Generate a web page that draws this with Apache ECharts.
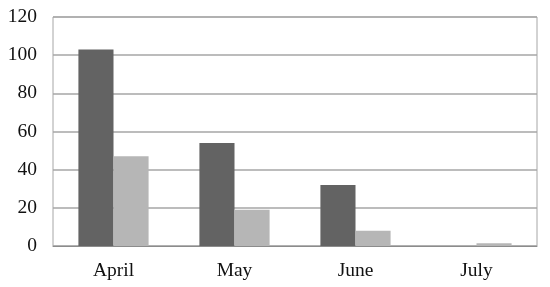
<!DOCTYPE html>
<html>
<head>
<meta charset="utf-8">
<script src="https://cdn.jsdelivr.net/npm/echarts@6/dist/echarts.min.js"></script>
<style>
  html, body { margin: 0; padding: 0; background: #fff; }
  #chart { width: 550px; height: 287px; }
</style>
</head>
<body>
<div id="chart"></div>
<script>
// values
const months = ["April", "May", "June", "July"];
const seriesDark = [103, 54, 32, 0];
const seriesLight = [47, 19, 8, 1.5];
const yTicks = { min: 0, max: 120, step: 20 };

const chart = echarts.init(document.getElementById("chart"), null, { renderer: "canvas" });

const font = "'Liberation Serif', 'DejaVu Serif', serif";

chart.setOption({
  animation: false,
  backgroundColor: "#fff",
  grid: {
    left: 53,
    right: 13,
    top: 17,
    bottom: 41,
    show: true,
    borderColor: "#a6a6a6",
    borderWidth: 1
  },
  xAxis: {
    type: "category",
    data: months,
    axisLine: { show: true, lineStyle: { color: "#8c8c8c", width: 1 } },
    axisTick: { show: false },
    axisLabel: { color: "#111", fontFamily: font, fontSize: 19.5, margin: 15 }
  },
  yAxis: {
    type: "value",
    min: yTicks.min,
    max: yTicks.max,
    interval: yTicks.step,
    axisLine: { show: false },
    axisTick: { show: false },
    axisLabel: { color: "#111", fontFamily: font, fontSize: 19.5, margin: 16 },
    splitLine: { lineStyle: { color: "#a6a6a6", width: 1.5 } }
  },
  series: [
    {
      type: "bar",
      data: seriesDark,
      barGap: "0%",
      barCategoryGap: "42%",
      itemStyle: { color: "#636363" }
    },
    {
      type: "bar",
      data: seriesLight,
      itemStyle: { color: "#b6b6b6" }
    }
  ]
});
</script>
</body>
</html>
